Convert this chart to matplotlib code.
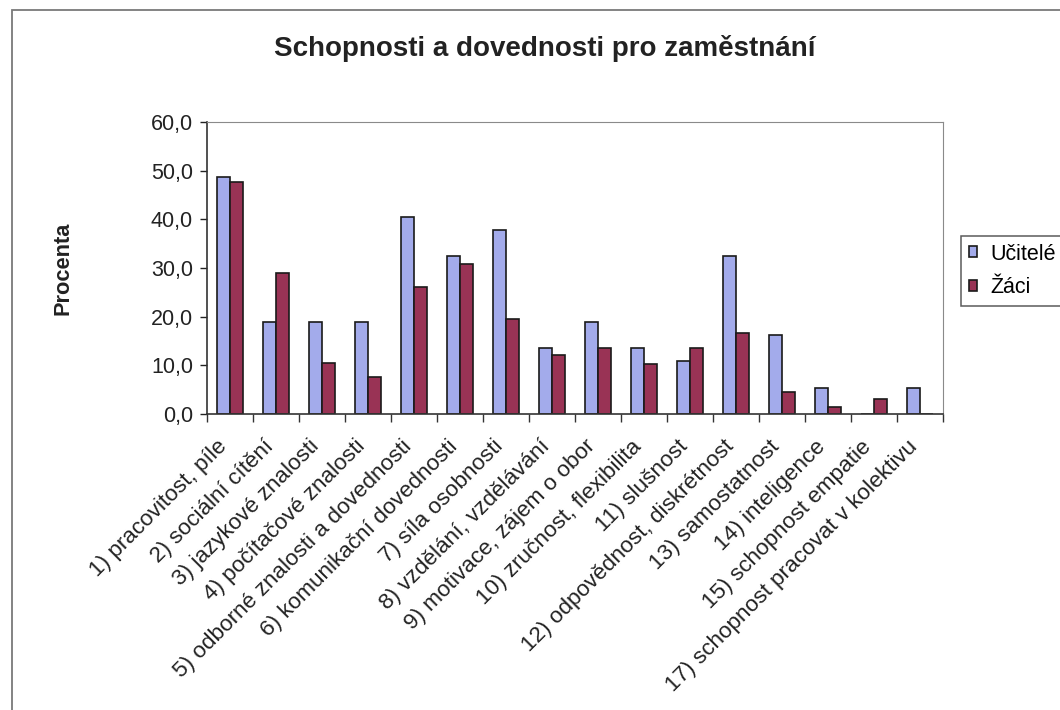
import matplotlib
matplotlib.use('Agg')
import matplotlib.pyplot as plt
import matplotlib.transforms as mtransforms
from matplotlib.ticker import FuncFormatter, FixedLocator
from matplotlib.patches import Rectangle
import numpy as np

plt.rcParams['font.family'] = ['Liberation Sans', 'DejaVu Sans']

# Kategorie a procenta
kategorie = [
    '1) pracovitost, píle',
    '2) sociální cítění',
    '3) jazykové znalosti',
    '4) počítačové znalosti',
    '5) odborné znalosti a dovednosti',
    '6) komunikační dovednosti',
    '7) síla osobnosti',
    '8) vzdělání, vzdělávání',
    '9) motivace, zájem o obor',
    '10) zručnost, flexibilita',
    '11) slušnost',
    '12) odpovědnost, diskrétnost',
    '13) samostatnost',
    '14) inteligence',
    '15) schopnost empatie',
    '17) schopnost pracovat v kolektivu',
]
ucitele = [48.6, 18.9, 18.9, 18.9, 40.5, 32.4, 37.8, 13.5, 18.9, 13.5, 10.8, 32.4, 16.2, 5.4, 0.0, 5.4]
zaci = [47.6, 29.0, 10.4, 7.7, 26.1, 30.8, 19.6, 12.1, 13.5, 10.3, 13.5, 16.7, 4.5, 1.4, 3.0, 0.0]

fig = plt.figure(figsize=(10.6, 7.1), dpi=100)

# Rámeček kolem celého grafu
fig.patches.append(Rectangle((12 / 1060, -0.1), 1.2, 1 - 10 / 710 + 0.1,
                             transform=fig.transFigure, fill=False,
                             edgecolor='#7a7a7a', linewidth=1.3))

ax = fig.add_axes([207 / 1060, 1 - 414 / 710, 736 / 1060, 292 / 710])

x = np.arange(len(kategorie))
w = 0.286
ax.bar(x - w / 2, ucitele, w, color='#a3abeb', edgecolor='#1a1a1a', linewidth=1.2, label='Učitelé')
ax.bar(x + w / 2, zaci, w, color='#993355', edgecolor='#1a1a1a', linewidth=1.2, label='Žáci')

ax.set_xlim(-0.5, len(kategorie) - 0.5)
ax.set_ylim(0, 60)
ax.set_yticks(np.arange(0, 61, 10))
ax.yaxis.set_major_formatter(FuncFormatter(lambda v, pos: f'{v:.1f}'.replace('.', ',')))
ax.tick_params(axis='y', direction='out', length=5, width=1, labelsize=15.5, colors='#222222', pad=5)

# popisky kategorií pod úhlem 45°
ax.set_xticks(x)
ax.set_xticklabels(kategorie, rotation=45, ha='right', va='top', rotation_mode='anchor',
                   fontsize=16.2, color='#222222')
ax.tick_params(axis='x', which='major', length=0, pad=0)
posun = mtransforms.ScaledTranslation(-0.13, -0.22, fig.dpi_scale_trans)
for lbl in ax.get_xticklabels():
    lbl.set_transform(lbl.get_transform() + posun)
ax.xaxis.set_minor_locator(FixedLocator(np.arange(-0.5, len(kategorie), 1)))
ax.tick_params(axis='x', which='minor', direction='out', length=6, width=1, color='#333333')

for side in ['top', 'right']:
    ax.spines[side].set_color('#8a8a8a')
for side in ['left', 'bottom']:
    ax.spines[side].set_color('#333333')
    ax.spines[side].set_linewidth(1.2)

ax.set_ylabel('Procenta', fontsize=15.7, fontweight='bold', color='#222222')
ax.yaxis.set_label_coords(-0.181, 0.5)

fig.text(545 / 1060, 1 - 48 / 710, 'Schopnosti a dovednosti pro zaměstnání',
         ha='center', va='center', fontsize=20, fontweight='bold', color='#222222')

leg = fig.legend(loc='upper left', bbox_to_anchor=(961 / 1060, 1 - 236 / 710),
                 fontsize=15.5, frameon=True, fancybox=False, edgecolor='#333333',
                 handlelength=0.4, handleheight=0.4, handletextpad=0.6,
                 labelspacing=0.6, borderpad=0.35, borderaxespad=0)
leg.get_frame().set_linewidth(1.1)

fig.savefig('out.png', dpi=100)
